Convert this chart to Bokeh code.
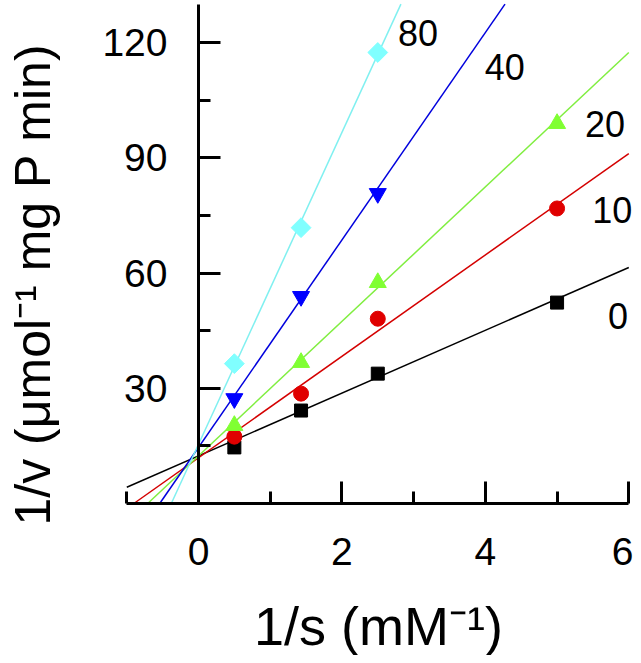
import math
from bokeh.plotting import figure
from bokeh.models import Range1d, FixedTicker, Label, LinearAxis
from bokeh.embed import file_html
from bokeh.resources import INLINE

# ---- data ----
inv_s = [0.5, 1.43, 2.5, 5.0]                # 1/s (mM^-1)
series_names = ["0", "10", "20", "40", "80"]  # inhibitor concentration labels
y_0 = [14.6, 24.2, 33.8, 52.3]
y_10 = [17.4, 28.6, 48.1, 76.8]
y_20 = [20.3, 36.7, 57.5, 98.9]
y_40 = [27.3, 53.9, 80.7]
y_80 = [36.4, 71.8, 117.4]
fit_slope = [8.17, 13.2, 17.5, 27.0, 40.6]
fit_intercept = [12.4, 11.9, 12.4, 14.6, 15.4]
label_x = [5.85, 5.77, 5.67, 4.27, 3.06]
label_y = [48.9, 76.5, 98.9, 113.7, 122.6]
x_ticks = [0, 2, 4, 6]
x_minor = [-1, 1, 3, 5]
y_ticks = [30, 60, 90, 120]
y_minor = [15, 45, 75, 105]
x_min, x_max = -1.0, 6.0
y_min, y_max = 0.0, 130.0

FONT = "Liberation Sans"
W, H = 633, 655
PX_X = 502 / 7.0          # pixels per x unit
PX_Y = 461 / 120.0        # pixels per y unit
X0_PX, Y0_PX = 198, 503   # where the axes cross, in pixels

xr = Range1d(-X0_PX / PX_X, (W - X0_PX) / PX_X)
yr = Range1d(-(H - Y0_PX) / PX_Y, Y0_PX / PX_Y)

p = figure(frame_width=W, frame_height=H,
           min_border_left=0, min_border_right=0, min_border_top=0, min_border_bottom=0,
           x_range=xr, y_range=yr,
           output_backend="svg", toolbar_location=None, tools="",
           x_axis_location=None, y_axis_location=None)
p.outline_line_color = None
p.xgrid.visible = False
p.ygrid.visible = False
p.background_fill_color = "white"
p.border_fill_color = "white"


def style_axis(ax, standoff):
    ax.axis_line_width = 3
    ax.axis_line_color = "black"
    ax.major_tick_line_width = 3
    ax.minor_tick_line_width = 3
    ax.major_tick_in = 22
    ax.major_tick_out = 0
    ax.minor_tick_in = 12
    ax.minor_tick_out = 0
    ax.major_label_text_font = FONT
    ax.major_label_text_font_size = "39px"
    ax.major_label_text_color = "black"
    ax.major_label_standoff = standoff


xa = LinearAxis(fixed_location=0, bounds=(x_min, x_max),
                ticker=FixedTicker(ticks=x_ticks, minor_ticks=x_minor))
style_axis(xa, 34)
p.add_layout(xa, "below")

ya = LinearAxis(fixed_location=0, bounds=(y_min, y_max),
                ticker=FixedTicker(ticks=y_ticks, minor_ticks=y_minor))
style_axis(ya, 31)
p.add_layout(ya, "left")

line_colors = ["#000000", "#d40000", "#80ee40", "#0000dd", "#80f0f0"]
marker_colors = ["#000000", "#e00000", "#80ff33", "#0000ff", "#80ffff"]
markers = ["square", "circle", "triangle", "inverted_triangle", "square"]
angles = [0, 0, 0, 0, math.pi / 4]
sizes = [13, 15, 17, 17, 14]
ys = [y_0, y_10, y_20, y_40, y_80]

for i in range(5):
    m, b = fit_slope[i], fit_intercept[i]
    xs0 = max(x_min, (y_min - b) / m)
    xs1 = min(x_max, (y_max - b) / m)
    lx = [xs0, xs1]
    ly = [b + m * v for v in lx]
    p.line(lx, ly, line_color=line_colors[i], line_width=1.5)

for i in range(5):
    xs = inv_s[:len(ys[i])]
    p.scatter(xs, ys[i], marker=markers[i], size=sizes[i], angle=angles[i],
              fill_color=marker_colors[i], line_color=marker_colors[i])

for i in range(5):
    p.add_layout(Label(x=label_x[i], y=label_y[i], text=series_names[i],
                       text_font=FONT, text_font_size="36px", text_color="black",
                       text_align="center", text_baseline="middle"))

p.add_layout(Label(x=2.51, y=-31.8, text="1/s (mM\u207b\u00b9)",
                   text_font=FONT, text_font_size="54px", text_color="black",
                   text_align="center", text_baseline="alphabetic"))
p.add_layout(Label(x=-2.31, y=57.0, text="1/v (\u03bcmol\u207b\u00b9 mg P min)",
                   angle=math.pi / 2,
                   text_font=FONT, text_font_size="50px", text_color="black",
                   text_align="center", text_baseline="alphabetic"))

open("out.html", "w").write(file_html(p, INLINE))
